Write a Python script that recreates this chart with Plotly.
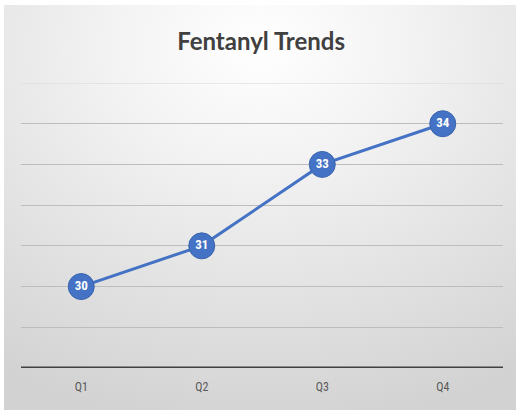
import plotly.graph_objects as go

# Quarterly fentanyl figures
quarters = ["Q1", "Q2", "Q3", "Q4"]
values = [30, 31, 33, 34]
y_min, y_max = 28, 35

W, H = 516, 410
ML, MR, MT, MB = 21, 13, 83, 42
PW, PH = W - ML - MR, H - MT - MB
BX, BY = 4, 5  # white strip left/top of the chart panel

blue = "#4472C4"

# Soft radial backdrop for the chart panel
bg_svg = (
    "data:image/svg+xml;utf8,"
    "<svg xmlns='http://www.w3.org/2000/svg' width='512' height='405' preserveAspectRatio='none'>"
    "<defs><radialGradient id='g' cx='0.5' cy='0.1' r='0.95'>"
    "<stop offset='0' stop-color='%23ffffff'/>"
    "<stop offset='0.3' stop-color='%23f3f3f3'/>"
    "<stop offset='0.7' stop-color='%23e0e0e0'/>"
    "<stop offset='1' stop-color='%23d2d2d2'/>"
    "</radialGradient></defs>"
    "<rect x='0' y='0' width='512' height='405' fill='url(%23g)'/>"
    "</svg>"
)

fig = go.Figure()
fig.add_trace(go.Scatter(
    x=quarters, y=values,
    mode="lines+markers+text",
    line=dict(color=blue, width=3),
    marker=dict(size=26, color=blue, line=dict(color="#3a63ad", width=1)),
    text=[str(v) for v in values],
    textposition="middle center",
    textfont=dict(family="Liberation Sans Narrow, Roboto Condensed, Arial Narrow, sans-serif",
                  size=13, color="white", weight="bold"),
    hoverinfo="skip",
    cliponaxis=False,
))

fig.update_layout(
    width=W, height=H,
    margin=dict(l=ML, r=MR, t=MT, b=MB),
    paper_bgcolor="white",
    plot_bgcolor="rgba(0,0,0,0)",
    showlegend=False,
    title=dict(text="<b>Fentanyl Trends</b>", x=0.506, xanchor="center",
               y=1 - 42 / H, yanchor="middle",
               font=dict(family="Lato, Open Sans, sans-serif", size=24, color="#404040")),
    images=[dict(source=bg_svg, xref="paper", yref="paper",
                 x=-(ML - BX) / PW, y=1 + (MT - BY) / PH,
                 sizex=(W - BX) / PW, sizey=(H - BY) / PH,
                 xanchor="left", yanchor="top", sizing="stretch", layer="below")],
    xaxis=dict(showgrid=False, showline=False, zeroline=False,
               tickfont=dict(family="Liberation Sans Narrow, Roboto Condensed, sans-serif",
                             size=12, color="#595959"),
               ticks="", ticklabelstandoff=10,
               range=[-0.5, 3.5]),
    yaxis=dict(range=[y_min, y_max], dtick=1, tick0=y_min, showgrid=True,
               gridcolor="#bdbdbd", gridwidth=1,
               showticklabels=False, zeroline=False, showline=False, ticks=""),
    shapes=[
        # top gridline sits on the range edge
        dict(type="line", xref="paper", yref="y", x0=0, x1=1, y0=y_max, y1=y_max,
             line=dict(color="#d6d6d6", width=1), layer="below"),
        # category axis baseline
        dict(type="line", xref="paper", yref="y", x0=0, x1=1, y0=y_min, y1=y_min,
             line=dict(color="#404040", width=3)),
    ],
)

fig.write_html("out.html")
